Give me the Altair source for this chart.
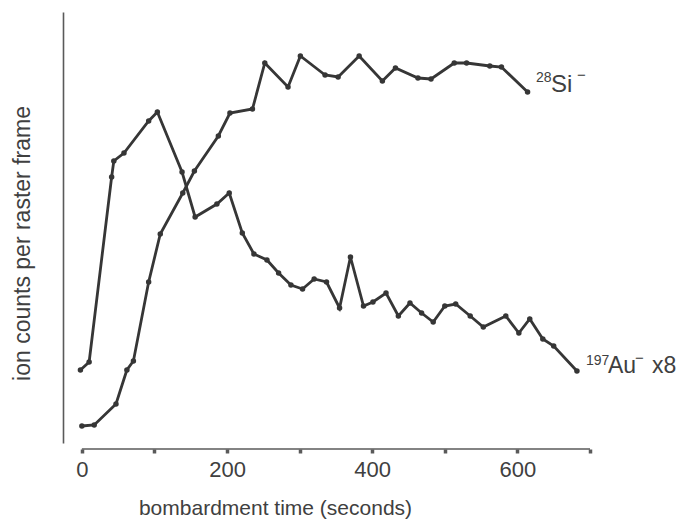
import altair as alt
import pandas as pd

# 28Si- counts per raster frame versus bombardment time (s)
si_time = [0, 17, 47, 62, 71, 92, 108, 139, 155, 188, 204, 235, 252, 284, 301,
           335, 353, 382, 414, 432, 463, 481, 513, 530, 562, 578, 614]
si_counts = [17, 18, 39, 73, 82, 161, 209, 250, 272, 307, 330, 334, 380, 356, 387,
             368, 366, 387, 362, 375, 365, 364, 380, 380, 377, 376, 351]

# 197Au- counts (scaled x8) versus bombardment time (s)
au_time = [-2, 10, 41, 44, 58, 92, 104, 138, 156, 186, 203, 221, 237, 255, 271,
           288, 304, 320, 337, 355, 370, 388, 401, 419, 436, 452, 468, 484, 500,
           515, 535, 553, 584, 602, 617, 635, 650, 682]
au_counts = [73, 81, 266, 282, 290, 322, 331, 271, 226, 239, 250, 210, 189, 183, 170,
             158, 154, 164, 161, 135, 186, 137, 141, 150, 127, 140, 130, 121, 137,
             139, 127, 116, 127, 110, 124, 104, 97, 72]

x_ticks = list(range(0, 701, 50))
x_title = "bombardment time (seconds)"
y_title = "ion counts per raster frame"

INK = "#363636"
AXIS = "#5a5a5a"
TEXT = "#404040"
FONT = "Liberation Sans"

series = pd.concat([
    pd.DataFrame({"time": si_time, "counts": si_counts, "ion": "Si"}),
    pd.DataFrame({"time": au_time, "counts": au_counts, "ion": "Au"}),
])

x_scale = alt.Scale(domain=[-26, 700], nice=False, zero=False)
y_scale = alt.Scale(domain=[0, 431], nice=False)

base = alt.Chart(series).encode(
    x=alt.X(
        "time:Q",
        scale=x_scale,
        axis=alt.Axis(
            values=x_ticks,
            labelExpr="datum.value % 200 === 0 ? datum.label : ''",
            domain=False, grid=False, offset=6,
            tickSize=4, tickWidth=3.5, tickColor=AXIS,
            labelFontSize=22, labelFont=FONT, labelColor=TEXT,
            labelPadding=6, labelFlush=False, labelOverlap=False,
            title=x_title, titleFontSize=21, titleFont=FONT,
            titleFontWeight="normal", titleColor=TEXT,
            titleX=212, titleY=65, titleAlign="center", titleBaseline="alphabetic",
        ),
    ),
    y=alt.Y(
        "counts:Q",
        scale=y_scale,
        axis=alt.Axis(
            domain=True, domainColor=AXIS, domainWidth=1.6,
            ticks=False, labels=False, grid=False,
            title=y_title, titleFontSize=23, titleFont=FONT,
            titleFontWeight="normal", titleColor=TEXT,
            titleX=-41, titleY=231, titleAngle=270,
            titleAlign="center", titleBaseline="middle",
        ),
    ),
    detail="ion:N",
)

lines = base.mark_line(color=INK, strokeWidth=2.8)
dots = base.mark_point(filled=True, color=INK, size=30, opacity=1)

# bottom axis line spanning only the measured range
axis_line = alt.Chart(pd.DataFrame({"start": [x_ticks[0]], "end": [x_ticks[-1]]})).mark_rule(
    color=AXIS, strokeWidth=1.6
).encode(x="start:Q", x2="end:Q", y=alt.value(437))


def label(text, x, y, size):
    return alt.Chart(pd.DataFrame({"label": [text]})).mark_text(
        align="left", baseline="alphabetic", fontSize=size, font=FONT, color=TEXT
    ).encode(x=alt.value(x), y=alt.value(y), text="label:N")


labels = [
    label("28", 473, 70, 14),
    label("Si", 488, 80, 24),
    label("\u2212", 514, 68, 15),
    label("197", 523, 353, 14),
    label("Au", 545, 361, 23),
    label("\u2212", 572, 351, 15),
    label("x8", 589, 361, 23),
]

chart = alt.layer(lines, dots, axis_line, *labels).properties(
    width=527,
    height=431,
    autosize=alt.AutoSizeParams(type="none"),
    padding={"left": 63, "top": 12, "right": 94, "bottom": 78},
).configure_view(stroke=None)

chart.save("out.html", embed_options={"renderer": "svg", "actions": False})
